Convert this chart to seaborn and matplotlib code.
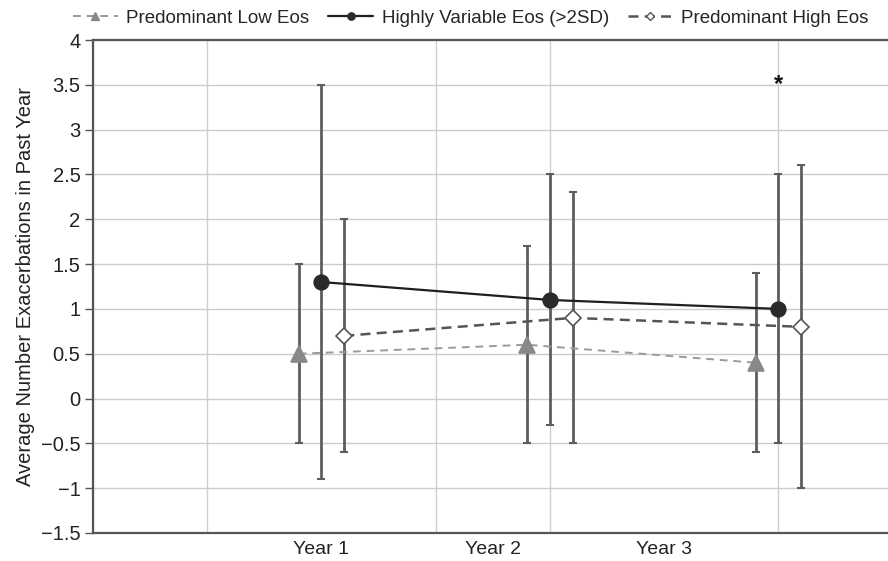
import matplotlib
matplotlib.use("Agg")
import matplotlib.pyplot as plt
import matplotlib.ticker as mticker
import seaborn as sns
import pandas as pd
import numpy as np

# ---- data ----
series_names = ["Predominant Low Eos", "Highly Variable Eos (>2SD)", "Predominant High Eos"]
x_low = [1.8, 3.8, 5.8]
x_var = [2.0, 4.0, 6.0]
x_high = [2.2, 4.2, 6.2]
mean_low = [0.5, 0.6, 0.4]
mean_var = [1.3, 1.1, 1.0]
mean_high = [0.7, 0.9, 0.8]
lo_low = [-0.5, -0.5, -0.6]
hi_low = [1.5, 1.7, 1.4]
lo_var = [-0.9, -0.3, -0.5]
hi_var = [3.5, 2.5, 2.5]
lo_high = [-0.6, -0.5, -1.0]
hi_high = [2.0, 2.3, 2.6]
xtick_pos = [2, 3.5, 5]
xtick_labels = ["Year 1", "Year 2", "Year 3"]
star_x, star_y = 6.0, 3.5

sns.set_theme(style="white")
plt.rcParams["font.family"] = ["Liberation Sans", "DejaVu Sans"]

fig = plt.figure(figsize=(8.88, 5.61), dpi=100)
ax = fig.add_axes([93 / 888, 28 / 561, 1 - 93 / 888, (533 - 40) / 561])

df = pd.concat([
    pd.DataFrame({"x": x_low, "y": mean_low, "lo": lo_low, "hi": hi_low, "series": series_names[0]}),
    pd.DataFrame({"x": x_var, "y": mean_var, "lo": lo_var, "hi": hi_var, "series": series_names[1]}),
    pd.DataFrame({"x": x_high, "y": mean_high, "lo": lo_high, "hi": hi_high, "series": series_names[2]}),
], ignore_index=True)

err_color = "#5e5e5e"
for name in series_names:
    d = df[df["series"] == name]
    ax.errorbar(d["x"], d["y"], yerr=[d["y"] - d["lo"], d["hi"] - d["y"]],
                fmt="none", ecolor=err_color, elinewidth=2, capsize=3, capthick=1.5, zorder=2)

styles = {
    series_names[0]: dict(color="#9a9a9a", ls=(0, (4, 3)), marker="^", ms=12, mfc="#888888", mec="#888888", lw=1.4),
    series_names[1]: dict(color="#1f1f1f", ls="-", marker="o", ms=10.5, mfc="#2a2a2a", mec="#2a2a2a", lw=1.6),
    series_names[2]: dict(color="#555555", ls=(0, (4, 2.5)), marker="D", ms=8.5, mfc="white", mec="#555555", lw=1.8),
}
handles = []
for name in series_names:
    d = df[df["series"] == name]
    st = styles[name]
    sns.lineplot(data=d, x="x", y="y", ax=ax, color=st["color"], linestyle=st["ls"], lw=st["lw"],
                 marker=st["marker"], markersize=st["ms"], markerfacecolor=st["mfc"],
                 markeredgecolor=st["mec"], markeredgewidth=1.2, zorder=3, legend=False, estimator=None)
    h, = ax.plot([], [], color=st["color"], linestyle=st["ls"], lw=st["lw"], marker=st["marker"],
                 markersize=st["ms"] * 0.5, markerfacecolor=st["mfc"], markeredgecolor=st["mec"])
    handles.append(h)

ax.text(star_x, star_y, "*", ha="center", va="center", fontsize=17, fontweight="bold", color="#111111")

ax.set_xlim(0, 6.96)
ax.set_ylim(-1.5, 4)
ax.set_yticks(np.arange(-1.5, 4.01, 0.5))
ax.yaxis.set_major_formatter(mticker.FuncFormatter(lambda v, p: ("%g" % v).replace("-", "\u2212")))
ax.set_xticks(xtick_pos)
ax.set_xticklabels(xtick_labels)
ax.xaxis.set_minor_locator(mticker.MultipleLocator(1))
ax.grid(False)
ax.grid(axis="y", which="major", color="#cccccc", lw=1)
ax.grid(axis="x", which="minor", color="#d0d0d0", lw=1)
ax.set_axisbelow(True)
ax.tick_params(axis="x", which="both", length=0, labelsize=14, pad=6, colors="#222222")
ax.tick_params(axis="y", length=6, width=1, color="#555555", labelsize=14.5, pad=3, labelcolor="#222222")
ax.tick_params(axis="y", left=True)
for s in ["left", "bottom", "top"]:
    ax.spines[s].set_color("#555555")
    ax.spines[s].set_linewidth(1.6)
ax.spines["right"].set_visible(False)
ax.set_xlabel("")
ax.set_ylabel("Average Number Exacerbations in Past Year", fontsize=14.5, color="#222222", labelpad=4)

fig.legend(handles, series_names, loc="center", bbox_to_anchor=(0.53, 0.968), ncol=3, frameon=False,
           fontsize=13.5, handlelength=2.4, columnspacing=1.0, handletextpad=0.45)

fig.savefig("out.png", dpi=100)
